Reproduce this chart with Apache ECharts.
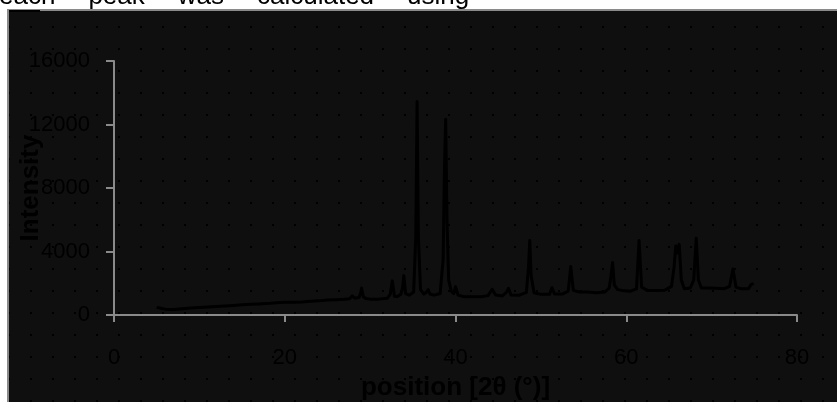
<!DOCTYPE html>
<html>
<head>
<meta charset="utf-8">
<script src="https://cdn.jsdelivr.net/npm/echarts@6/dist/echarts.min.js"></script>
<style>
html,body{margin:0;padding:0;background:#fff;}
#chart{width:837px;height:402px;}
</style>
</head>
<body>
<div id="chart"></div>
<script>
// X-ray diffraction pattern: position (2θ, degrees) and intensity
const positions = [
  5.0, 5.5, 6.0, 7.0, 8.0, 9.0, 10.0, 11.0, 12.0, 13.0, 14.0, 15.0, 16.0, 17.0,
  17.8, 18.0, 18.3, 19.0, 20.0, 20.2, 20.5, 21.0, 22.0, 23.0, 24.0, 25.0, 26.0,
  27.0, 27.6, 27.9, 28.2, 28.7, 28.9, 29.0, 29.2, 29.5, 30.0, 31.0, 32.0, 32.35,
  32.6, 32.85, 33.2, 33.6, 33.8, 33.95, 34.15, 34.6, 35.1, 35.35, 35.5, 35.65, 35.9,
  36.3, 36.6, 36.8, 37.0, 37.5, 38.2, 38.55, 38.7, 38.85, 39.0, 39.2, 39.5, 39.8,
  40.0, 40.3, 41.0, 42.0, 43.0, 43.8, 44.3, 44.7, 45.5, 46.0, 46.2, 46.5, 47.5,
  48.3, 48.55, 48.7, 48.85, 49.2, 50.0, 51.0, 51.3, 51.6, 52.5, 53.2, 53.5, 53.8,
  54.5, 55.5, 56.5, 57.5, 58.0, 58.2, 58.4, 58.6, 59.0, 59.5, 60.5, 61.2, 61.5,
  61.8, 62.5, 63.5, 64.5, 65.3, 65.6, 65.8, 66.0, 66.2, 66.45, 66.8, 67.5, 67.9,
  68.2, 68.45, 68.8, 69.5, 70.5, 71.5, 72.1, 72.5, 72.85, 73.5, 74.3, 74.6, 74.9
];
const intensity = [
  480, 420, 370, 350, 400, 440, 480, 510, 540, 570, 600, 640, 670, 700,
  730, 840, 740, 770, 800, 860, 800, 810, 820, 860, 890, 940, 960,
  990, 1020, 1200, 1060, 1100, 1400, 1700, 1150, 1040, 1000, 1000, 1050, 1300,
  2150, 1180, 1160, 1300, 1700, 2480, 1350, 1250, 1450, 5000, 13450, 5000, 1600,
  1320, 1450, 1600, 1320, 1250, 1350, 3500, 9000, 12330, 6000, 2200, 1500, 1350,
  1780, 1250, 1150, 1150, 1150, 1220, 1620, 1260, 1200, 1450, 1680, 1260, 1250,
  1420, 3000, 4700, 2500, 1400, 1300, 1300, 1720, 1320, 1320, 1500, 3050, 1550,
  1450, 1450, 1400, 1450, 1700, 2400, 3300, 1900, 1600, 1550, 1500, 1650, 4700,
  1750, 1550, 1550, 1560, 1800, 3000, 4350, 3900, 4450, 2200, 1650, 1700, 2200,
  4830, 2200, 1700, 1700, 1680, 1660, 1800, 2900, 1760, 1650, 1650, 1900, 2000
];
const xTicks = { min: 0, max: 80, step: 20 };
const yTicks = { min: 0, max: 16000, step: 4000 };
const xName = 'position [2θ (°)]';
const yName = 'Intensity';
const noteWords = ['each', 'peak', 'was', 'calculated', 'using'];

const seriesData = positions.map((p, i) => [p, intensity[i]]);

// dotted dark background pattern
const cv = document.createElement('canvas');
cv.width = 22; cv.height = 22;
const cx = cv.getContext('2d');
cx.fillStyle = '#0f0f0f';
cx.fillRect(0, 0, 22, 22);
cx.fillStyle = '#000000';
cx.fillRect(8, 4, 2, 2);

const labelFont = "'Liberation Sans', Arial, sans-serif";
const noteFont = "26px 'Liberation Sans', Arial, sans-serif";

// place the clipped caption words with justified spacing
const noteGraphics = [];
(function () {
  const m = document.createElement('canvas').getContext('2d');
  m.font = noteFont;
  let x = -1;
  const gap = 33;
  noteWords.forEach(w => {
    noteGraphics.push({ type: 'text', x: x, y: 10, z: 103,
      style: { text: w, fill: '#000', font: noteFont, verticalAlign: 'bottom', textVerticalAlign: 'bottom' } });
    x += m.measureText(w).width + gap;
  });
})();

const chart = echarts.init(document.getElementById('chart'), null, { renderer: 'canvas' });
chart.setOption({
  animation: false,
  backgroundColor: { image: cv, repeat: 'repeat' },
  grid: { left: 114, right: 40, top: 61, bottom: 87, containLabel: false, outerBoundsMode: 'none' },
  xAxis: {
    type: 'value',
    min: xTicks.min, max: xTicks.max, interval: xTicks.step,
    name: xName, nameLocation: 'middle', nameGap: 60, nameMoveOverlap: false,
    nameTextStyle: { color: '#000', fontSize: 26, fontWeight: 'bold', fontFamily: labelFont },
    axisLine: { show: true, lineStyle: { color: '#8a8a8a', width: 2 } },
    axisTick: { show: true, inside: false, length: 7, lineStyle: { color: '#8a8a8a', width: 2 } },
    axisLabel: { color: '#000', fontSize: 22, fontFamily: labelFont, margin: 32, formatter: v => String(v) },
    splitLine: { show: false }
  },
  yAxis: {
    type: 'value',
    min: yTicks.min, max: yTicks.max, interval: yTicks.step,
    name: yName, nameLocation: 'middle', nameGap: 70, nameMoveOverlap: false,
    nameTextStyle: { color: '#000', fontSize: 26, fontWeight: 'bold', fontFamily: labelFont },
    axisLine: { show: true, lineStyle: { color: '#8a8a8a', width: 2 } },
    axisTick: { show: true, inside: false, length: 8, lineStyle: { color: '#8a8a8a', width: 2 } },
    axisLabel: { color: '#000', fontSize: 22, fontFamily: labelFont, margin: 24, formatter: v => String(v) },
    splitLine: { show: false }
  },
  graphic: [
    { type: 'rect', shape: { x: 0, y: 0, width: 837, height: 9 }, style: { fill: '#fff' }, z: 100 },
    { type: 'rect', shape: { x: 0, y: 0, width: 7, height: 402 }, style: { fill: '#fff' }, z: 100 },
    { type: 'rect', shape: { x: 7, y: 9, width: 830, height: 2 }, style: { fill: '#8a8a8a' }, z: 101 },
    { type: 'rect', shape: { x: 7, y: 9, width: 2, height: 393 }, style: { fill: '#8a8a8a' }, z: 101 },
    { type: 'rect', shape: { x: 9, y: 10, width: 31, height: 2 }, style: { fill: '#000' }, z: 102 }
  ].concat(noteGraphics),
  series: [{
    type: 'line',
    data: seriesData,
    showSymbol: false,
    symbol: 'none',
    smooth: false,
    lineStyle: { color: '#000', width: 3, join: 'round' },
    z: 3
  }]
});
</script>
</body>
</html>
